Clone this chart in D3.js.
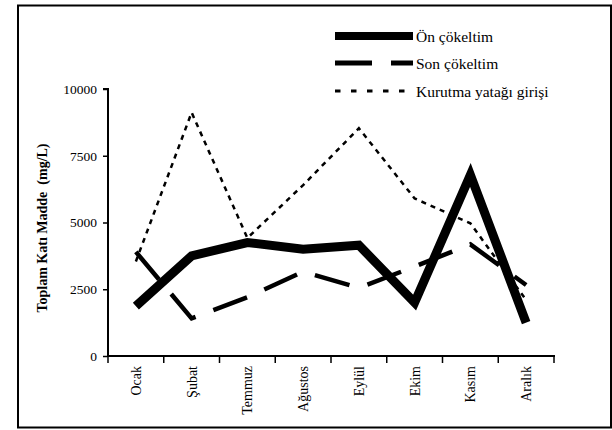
<!DOCTYPE html>
<html><head><meta charset="utf-8">
<script src="https://cdn.jsdelivr.net/npm/d3@7"></script>
<style>body{margin:0;background:#fff}svg{display:block}</style>
</head><body>
<script>
const months = ["Ocak","Şubat","Temmuz","Ağustos","Eylül","Ekim","Kasım","Aralık"];
const onCokeltim = [1870, 3750, 4250, 4000, 4150, 2000, 6780, 1250];
const sonCokeltim = [3900, 1410, 2200, 3160, 2550, 3350, 4180, 2660];
const kurutma = [3540, 9120, 4420, 6400, 8530, 5900, 4970, 2100];
const yTicks = [0, 2500, 5000, 7500, 10000];
const seriesNames = ["Ön çökeltim", "Son çökeltim", "Kurutma yatağı girişi"];

const W = 612, H = 430;
const svg = d3.select("body").append("svg").attr("width", W).attr("height", H);
const font = '"Liberation Serif"';

svg.append("rect").attr("x", 18).attr("y", 5.5).attr("width", 593).attr("height", 422)
  .attr("fill", "none").attr("stroke", "#000").attr("stroke-width", 2);

const x = d3.scaleBand().domain(months).range([108, 554]);
const y = d3.scaleLinear().domain([0, 10000]).range([356, 89]);

const yAxis = svg.append("g").attr("transform", "translate(108,0)")
  .call(d3.axisLeft(y).tickValues(yTicks).tickSize(5).tickPadding(6).tickFormat(d3.format("d")));
yAxis.select(".domain").attr("stroke-width", 2).attr("d", `M-5,${y(10000)}H0V${y(0)}`);
yAxis.selectAll(".tick line").attr("stroke-width", 1.5);
yAxis.selectAll("text").style("font-family", font).style("font-size", "13.5px").attr("fill", "#000");

const xAxis = svg.append("g").attr("transform", "translate(0,356)")
  .call(d3.axisBottom(x).tickSize(0).tickFormat(""));
xAxis.select(".domain").attr("stroke-width", 2).attr("d", "M107,0H555");
svg.append("g").selectAll("line").data(d3.range(months.length + 1)).join("line")
  .attr("x1", i => 108 + i * x.step()).attr("x2", i => 108 + i * x.step())
  .attr("y1", 356).attr("y2", 363).attr("stroke", "#000").attr("stroke-width", 1.5);
svg.append("g").selectAll("text").data(months).join("text")
  .attr("transform", d => `translate(${x(d) + x.bandwidth() / 2 + 5},366) rotate(-90)`)
  .attr("text-anchor", "end").style("font-family", font).style("font-size", "14px").text(d => d);

svg.append("text").attr("transform", "translate(47,228) rotate(-90)")
  .attr("text-anchor", "middle").style("font-family", font).style("font-size", "14px")
  .style("font-weight", "bold").style("white-space", "pre").text("Toplam Katı Madde  (mg/L)");

const line = d3.line().x((d, i) => x(months[i]) + x.bandwidth() / 2).y(d => y(d));
const styles = [
  {data: onCokeltim, w: 9, dash: null, lw: 8},
  {data: sonCokeltim, w: 4.5, dash: "36,19", lw: 5},
  {data: kurutma, w: 2.5, dash: "5,5", lw: 3}
];
styles.slice().reverse().forEach(s => {
  svg.append("path").datum(s.data).attr("d", line).attr("fill", "none")
    .attr("stroke", "#000").attr("stroke-width", s.w)
    .attr("stroke-dasharray", s.dash).attr("stroke-linejoin", "miter").attr("stroke-miterlimit", 10);
});

const ly = [36, 63, 91];
styles.forEach((s, i) => {
  svg.append("line").attr("x1", 335).attr("x2", 413).attr("y1", ly[i]).attr("y2", ly[i])
    .attr("stroke", "#000").attr("stroke-width", s.lw)
    .attr("stroke-dasharray", i === 1 ? "37,19" : (i === 2 ? "5.5,10.5" : null));
  svg.append("text").attr("x", 416).attr("y", ly[i] + 5.5).style("font-family", font)
    .style("font-size", "15.5px").text(seriesNames[i]);
});
</script>
</body></html>
